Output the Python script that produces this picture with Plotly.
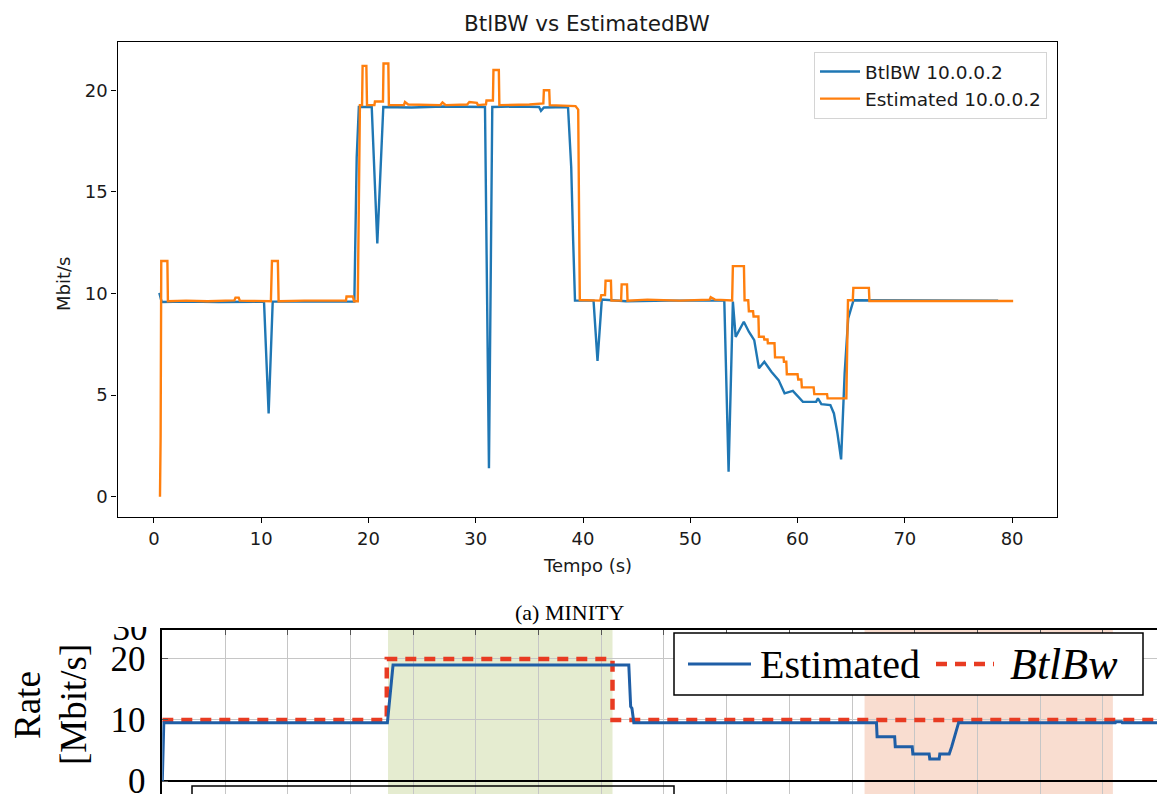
import plotly.graph_objects as go

W, H = 1157, 794
LAYOUT_H = 801  # rendered page compresses the layout height slightly; compensate

# ---------------- top chart data (MINITY: BtlBW vs EstimatedBW) ----------------
btl_t = [0.5, 0.72, 3.0, 6.0, 10.26, 10.69, 11.07, 14.0, 18.68, 18.9, 19.1, 20.3, 20.82, 21.38,
         24.0, 27.0, 30.86, 31.23, 31.54, 34.0, 35.9, 36.08, 36.35, 38.6, 38.9, 39.08, 39.25,
         40.98, 41.35, 41.75, 44.0, 48.0, 53.17, 53.57, 53.97, 54.23, 54.99, 55.46, 55.96,
         56.4, 56.9, 57.56, 58.23, 58.79, 59.56, 60.5, 61.73, 61.9, 62.22, 63.06, 63.39,
         63.72, 64.06, 64.39, 64.72, 65.22, 70.0, 78.7]
btl_v = [10.03, 9.58, 9.6, 9.58, 9.6, 4.1, 9.6, 9.6, 9.6, 16.7, 19.18, 19.18, 12.46, 19.18,
         19.15, 19.2, 19.18, 1.4, 19.18, 19.2, 19.18, 18.99, 19.15, 19.18, 16.2, 12.6, 9.65,
         9.65, 6.69, 9.7, 9.62, 9.65, 9.65, 1.23, 9.6, 7.87, 8.61, 8.12, 7.71,
         6.32, 6.64, 6.15, 5.74, 5.09, 5.21, 4.67, 4.67, 4.84, 4.56, 4.51, 4.1,
         3.12, 1.84, 6.07, 8.78, 9.67, 9.65, 9.65]

est_t = [0.56, 0.62, 0.68, 1.25, 1.30, 3.0, 5.0, 7.5, 7.6, 7.9, 8.0, 10.9, 11.0, 11.55, 11.62,
         14.0, 17.9, 17.95, 18.55, 18.65, 19.0, 19.2, 19.4, 19.45, 19.8, 19.86, 20.55, 20.6,
         21.35, 21.4, 21.85, 21.9, 23.3, 23.4, 23.7, 26.7, 26.9, 27.2, 29.2, 29.4, 30.1, 30.2,
         30.95, 31.0, 31.6, 31.65, 32.15, 32.2, 35.0, 36.3, 36.35, 36.85, 36.9, 39.3, 39.55,
         39.7, 41.6, 41.7, 42.05, 42.1, 42.6, 42.65, 43.55, 43.6, 44.1, 44.15, 46.0, 49.0,
         51.8, 51.9, 52.3, 53.9, 53.97, 55.0, 55.06, 55.4, 55.46, 55.85, 55.9, 56.35, 56.4,
         56.85, 56.9, 57.2, 57.23, 57.85, 57.9, 58.7, 58.73, 58.95, 59.0, 60.0, 60.06, 60.35,
         60.4, 61.5, 61.56, 62.75, 62.8, 64.55, 64.7, 65.15, 65.2, 66.65, 66.7, 70.0, 75.0, 80.1]
est_v = [0.0, 2.95, 11.6, 11.6, 9.62, 9.65, 9.62, 9.66, 9.8, 9.8, 9.65, 9.62, 11.6, 11.6, 9.62,
         9.65, 9.65, 9.85, 9.85, 9.62, 9.62, 19.27, 19.27, 21.2, 21.2, 19.27, 19.27, 19.45,
         19.45, 21.32, 21.32, 19.27, 19.27, 19.42, 19.3, 19.27, 19.4, 19.27, 19.3, 19.42, 19.38, 19.27,
         19.3, 19.5, 19.5, 21.0, 21.0, 19.27, 19.3, 19.35, 20.0, 20.0, 19.27, 19.22, 19.05,
         9.68, 9.65, 9.92, 9.92, 10.63, 10.63, 9.65, 9.65, 10.45, 10.45, 9.65, 9.7, 9.65,
         9.7, 9.82, 9.7, 9.66, 11.35, 11.35, 9.67, 9.67, 9.13, 9.13, 8.87, 8.87, 7.87,
         7.87, 7.74, 7.74, 7.55, 7.55, 6.86, 6.86, 6.64, 6.64, 6.03, 6.03, 5.77, 5.77,
         5.38, 5.38, 5.05, 5.05, 4.84, 4.84, 9.67, 9.67, 10.28, 10.28, 9.63, 9.63, 9.65, 9.63]

top_xticks = [0, 10, 20, 30, 40, 50, 60, 70, 80]
top_yticks = [0, 5, 10, 15, 20]

# ---------------- bottom (cropped) chart data ----------------
est2_t = [0, 0.12, 17.95, 18.4, 37.2, 37.35, 37.45, 37.6, 56.95, 57.0, 58.4, 58.45, 59.8, 59.85,
          61.15, 61.2, 61.95, 62.0, 62.75, 62.95, 63.5, 76.0, 76.05, 76.5, 76.55, 80]
est2_v = [0, 9.56, 9.56, 19.0, 19.0, 12.2, 11.9, 9.56, 9.56, 7.26, 7.26, 5.63, 5.63, 4.43,
          4.43, 3.61, 3.61, 4.43, 4.43, 5.63, 9.56, 9.56, 9.7, 9.7, 9.56, 9.56]
btl2_t = [0, 17.9, 17.9, 35.9, 35.9, 80]
btl2_v = [10, 10, 20, 20, 10, 10]
green_span = [18.0, 35.9]
peach_span = [56.0, 75.8]
bottom_yticks = [0, 10, 20]

BLUE = "#1f77b4"
ORANGE = "#ff7f0e"
EST_BLUE = "#1f5ea6"
BTL_RED = "#e83b22"
TXT = "#1a1a1a"
SANS = "DejaVu Sans"
SERIF = "Liberation Serif"


def px_x(p):
    return p / W


def px_y(p):
    return 1 - p / H


fig = go.Figure()

fig.add_trace(go.Scatter(x=btl_t, y=btl_v, mode="lines", name="BtlBW 10.0.0.2",
                         line=dict(color=BLUE, width=2.4), xaxis="x", yaxis="y"))
fig.add_trace(go.Scatter(x=est_t, y=est_v, mode="lines", name="Estimated 10.0.0.2",
                         line=dict(color=ORANGE, width=2.4), xaxis="x", yaxis="y"))

fig.add_trace(go.Scatter(x=btl2_t, y=btl2_v, mode="lines", name="BtlBw", showlegend=False,
                         line=dict(color=BTL_RED, width=4.5, dash="11px,8px"),
                         xaxis="x2", yaxis="y2"))
fig.add_trace(go.Scatter(x=est2_t, y=est2_v, mode="lines", name="Estimated", showlegend=False,
                         line=dict(color=EST_BLUE, width=3), xaxis="x2", yaxis="y2"))

# partially cropped "30" tick label of the lower chart
fig.add_trace(go.Scatter(x=[130], y=[H - 631], mode="text", text=["30"], showlegend=False,
                         textfont=dict(family=SERIF, size=35, color="black"),
                         cliponaxis=True, hoverinfo="skip", xaxis="x3", yaxis="y3"))

shapes = []
for span, col in ((green_span, "#e5ecd0"), (peach_span, "#f9ddd0")):
    shapes.append(dict(type="rect", xref="x2", yref="y2 domain", x0=span[0], x1=span[1],
                       y0=0, y1=1, fillcolor=col, line=dict(width=0), layer="below"))

# lower-chart legend box (manual, LaTeX-style)
shapes.append(dict(type="rect", xref="paper", yref="paper", x0=px_x(674), x1=px_x(1143),
                   y0=px_y(695), y1=px_y(633), fillcolor="white",
                   line=dict(color="black", width=1.5), layer="above"))
shapes.append(dict(type="line", xref="paper", yref="paper", x0=px_x(688), x1=px_x(751),
                   y0=px_y(664), y1=px_y(664), line=dict(color=EST_BLUE, width=3)))
shapes.append(dict(type="line", xref="paper", yref="paper", x0=px_x(936), x1=px_x(994),
                   y0=px_y(664), y1=px_y(664),
                   line=dict(color=BTL_RED, width=4.5, dash="11px,8px")))
# box of the next (cropped) panel
shapes.append(dict(type="rect", xref="paper", yref="paper", x0=px_x(192), x1=px_x(674),
                   y0=-0.05, y1=px_y(786), fillcolor="rgba(0,0,0,0)",
                   line=dict(color="black", width=1.5), layer="above"))


def ann(text, x, y, size, family, angle=0, xanchor="center", color=TXT):
    return dict(text=text, x=px_x(x), y=px_y(y), xref="paper", yref="paper",
                xanchor=xanchor, yanchor="middle", textangle=angle, showarrow=False,
                font=dict(family=family, size=size, color=color))


annotations = [
    ann("BtlBW vs EstimatedBW", 587, 23, 21.5, SANS),
    ann("Tempo (s)", 587, 565, 18, SANS),
    ann("Mbit/s", 63, 284, 18, SANS, angle=-90),
    ann("(a) MINITY", 569, 612, 22, SERIF, color="black"),
    ann("Rate", 27, 705, 37, SERIF, angle=-90, color="black"),
    ann("[Mbit/s]", 73, 705, 37, SERIF, angle=-90, color="black"),
    ann("Estimated", 758, 664, 40, SERIF, xanchor="left", color="black"),
    ann("<i>BtlBw</i>", 1008, 664, 44, SERIF, xanchor="left", color="black"),
]

fig.update_layout(
    width=W, height=LAYOUT_H, margin=dict(l=0, r=0, t=0, b=0),
    paper_bgcolor="white", plot_bgcolor="rgba(0,0,0,0)",
    showlegend=True,
    legend=dict(x=px_x(1047), y=px_y(52), xanchor="right", yanchor="top",
                bgcolor="white", bordercolor="#d4d4d4", borderwidth=1,
                font=dict(family=SANS, size=18.5, color=TXT), itemwidth=40),
    xaxis=dict(domain=[px_x(117.5), px_x(1056.5)], anchor="y", range=[-3.40, 84.14],
               tickmode="array", tickvals=top_xticks, ticks="outside", ticklen=5, tickwidth=1.2,
               tickcolor="black", showline=True, mirror=True, linecolor="black", linewidth=1.3,
               showgrid=False, zeroline=False, tickfont=dict(family=SANS, size=18, color=TXT)),
    yaxis=dict(domain=[px_y(517.3), px_y(41.7)], anchor="x", range=[-1.01, 22.39],
               tickmode="array", tickvals=top_yticks, ticks="outside", ticklen=5, tickwidth=1.2,
               tickcolor="black", showline=True, mirror=True, linecolor="black", linewidth=1.3,
               showgrid=False, zeroline=False, tickfont=dict(family=SANS, size=18, color=TXT)),
    xaxis2=dict(domain=[px_x(162.3), 1], anchor="y2", range=[0, 79.32], side="top",
                tick0=0, dtick=5, showticklabels=False, ticks="inside", ticklen=5,
                tickcolor="#555555", showline=True, linecolor="black", linewidth=1.5,
                showgrid=True, gridcolor="#c6c6c6", gridwidth=1, zeroline=False),
    yaxis2=dict(domain=[0, px_y(630)], anchor="x2", range=[-2.13, 24.75],
                tickmode="array", tickvals=bottom_yticks, ticks="inside", ticklen=6,
                tickcolor="#555555", showline=True, linecolor="black", linewidth=1.5,
                showgrid=True, gridcolor="#c6c6c6", gridwidth=1,
                zeroline=True, zerolinecolor="black", zerolinewidth=2,
                tickfont=dict(family=SERIF, size=35, color="black"), ticklabelstandoff=8,
                ticklabeloverflow="allow"),
    xaxis3=dict(domain=[0, px_x(160)], anchor="y3", range=[0, 160], visible=False),
    yaxis3=dict(domain=[0, px_y(627)], anchor="x3", range=[0, H - 627], visible=False),
    shapes=shapes, annotations=annotations,
)

fig.write_html("out.html")
